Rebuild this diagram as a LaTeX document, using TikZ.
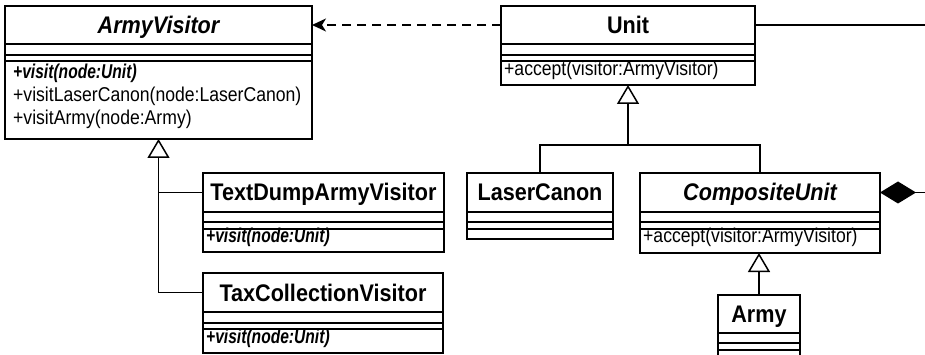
\documentclass[tikz,border=0pt]{standalone}
\usepackage{fontspec}
\setmainfont{Liberation Sans}
\newfontfamily\titlefont[FakeStretch=0.9]{Liberation Sans}
\newfontfamily\methfont[FakeStretch=0.88]{Liberation Sans}
\newfontfamily\absfont[FakeStretch=0.78]{Liberation Sans}
\usetikzlibrary{arrows.meta,calc}
\newcommand\cbox[6]{\node[comp, minimum width=#4pt, minimum height=#5pt] (#1) at (#2,#3) {#6};}
\begin{document}
\begin{tikzpicture}[x=1pt,y=-1pt,
  comp/.style={draw, line width=1.2pt, inner sep=0pt, outer sep=0pt, anchor=north west,
    font=\titlefont\fontsize{24}{26}\selectfont\bfseries, text height=17pt, text depth=0pt},
  meth/.style={anchor=base west, inner sep=0pt, font=\methfont\fontsize{20}{22}\selectfont},
  absmeth/.style={anchor=base west, inner sep=0pt, font=\absfont\fontsize{20}{22}\selectfont\bfseries\itshape},
  conn/.style={draw, line width=1.5pt},
  gen/.style={conn, -{Triangle[open, length=19pt, width=22pt, fill=white]}},
  dep/.style={conn, dash pattern=on 9pt off 6pt, -{Stealth[length=14pt, width=13pt, inset=4pt]}},
  comp2/.style={conn, {Diamond[length=36pt, width=22pt]}-}
]
\fill[white] (0,0) rectangle (925,355);
\useasboundingbox (0,0) rectangle (925,355);

% ArmyVisitor
\cbox{avT}{5}{6}{307}{38}{\itshape ArmyVisitor}
\cbox{avA}{5}{44}{307}{11}{}
\cbox{avM}{5}{55}{307}{84}{}
\node[absmeth] (av1) at (13,79) {+visit(node:Unit)};
\node[meth] (av2) at (13,102) {+visitLaserCanon(node:LaserCanon)};
\node[meth] (av3) at (13,125) {+visitArmy(node:Army)};

% Unit
\cbox{unT}{501}{6}{254}{38}{Unit}
\cbox{unA}{501}{44}{254}{11}{}
\cbox{unM}{501}{55}{254}{30}{}
\node[meth] (un1) at (504,76) {+accept(visitor:ArmyVisitor)};

% LaserCanon
\cbox{lcT}{467}{173}{146}{39}{LaserCanon}
\cbox{lcA}{467}{212}{146}{10}{}
\cbox{lcM}{467}{222}{146}{10}{}

% CompositeUnit
\cbox{cuT}{640}{173}{240}{39}{\itshape CompositeUnit}
\cbox{cuA}{640}{212}{240}{10}{}
\cbox{cuM}{640}{222}{240}{31}{}
\node[meth] (cu1) at (643,243) {+accept(visitor:ArmyVisitor)};

% TextDumpArmyVisitor
\cbox{tdT}{203}{173}{241}{39}{TextDumpArmyVisitor}
\cbox{tdA}{203}{212}{241}{10}{}
\cbox{tdM}{203}{222}{241}{30}{}
\node[absmeth] (td1) at (206,243) {+visit(node:Unit)};

% TaxCollectionVisitor
\cbox{tcT}{203}{273}{240}{39}{TaxCollectionVisitor}
\cbox{tcA}{203}{312}{240}{11}{}
\cbox{tcM}{203}{323}{240}{30}{}
\node[absmeth] (tc1) at (206,343) {+visit(node:Unit)};

% Army
\cbox{arT}{718}{295}{82}{38}{Army}
\cbox{arA}{718}{333}{82}{10}{}
\cbox{arM}{718}{343}{82}{10}{}

% connectors
\coordinate (redge1) at (925,25);
\coordinate (redge2) at (925,192.5);
\coordinate (ujoin) at (628,145);
\coordinate (vbot) at (avM.south |- tcT.west);

\draw[dep] (unT.west) -- (avT.east);
\draw[conn] (unT.east) -- (redge1);
\draw[comp2] (cuT.east) -- (redge2);
\draw[conn] (lcT.north) |- (ujoin) -| (cuT.north);
\draw[gen] (ujoin) -- (unM.south);
\draw[gen] (arT.north) -- (arT.north |- cuM.south);
\draw[conn] (tcT.west) -- (vbot);
\draw[conn] (tdT.west) -- (tdT.west -| vbot);
\draw[gen] (vbot) -- (avM.south);
\end{tikzpicture}
\end{document}
